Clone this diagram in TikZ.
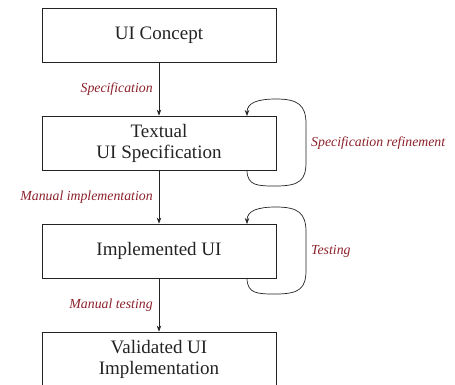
\documentclass[tikz,border=0pt]{standalone}
\usepackage{fontspec}
\setmainfont{Liberation Serif}
\usetikzlibrary{arrows.meta}
\definecolor{lbl}{RGB}{140,32,42}
\definecolor{ink}{RGB}{35,35,35}
\begin{document}
\begin{tikzpicture}[x=1pt,y=-1pt,
  stage/.style={draw=ink,line width=0.8pt,minimum width=234pt,minimum height=54pt,
    inner sep=0pt,align=center,text=ink,font=\fontsize{19}{21}\selectfont},
  flow/.style={draw=ink,line width=0.7pt,-{Stealth[length=6pt,width=4.5pt]}},
  lab/.style={text=lbl,font=\fontsize{13.8}{15}\itshape,inner sep=0pt}]
\useasboundingbox (0,0) rectangle (455,385);
\node[stage] (concept) at (159,35) {UI Concept};
\node[stage] (textual) at (159,143) {Textual\\UI Specification};
\node[stage] (impl) at (159,251) {Implemented UI};
\node[stage] (valid) at (159,359) {Validated UI\\Implementation};

\draw[flow] (concept) -- node[lab,anchor=east,xshift=-6pt] {Specification} (textual);
\draw[flow] (textual) -- node[lab,anchor=east,xshift=-6pt] {Manual implementation} (impl);
\draw[flow] (impl) -- node[lab,anchor=east,xshift=-6pt] {Manual testing} (valid);

% self loops on the right-hand side of a stage
\coordinate (tl1) at (247,170);
\coordinate (tl2) at (247,116);
\draw[flow] (tl1) .. controls (247,186) and (258,186) .. (276,186)
  .. controls (300,186) and (306,180) .. (306,162) -- (306,124)
  .. controls (306,105) and (298,99) .. (276,99)
  .. controls (257,99) and (247,103) .. (tl2);
\node[lab,anchor=west] (reflab) at (311,143) {Specification refinement};

\coordinate (il1) at (247,278);
\coordinate (il2) at (247,224);
\draw[flow] (il1) .. controls (247,294) and (258,294) .. (276,294)
  .. controls (300,294) and (306,288) .. (306,270) -- (306,232)
  .. controls (306,213) and (298,207) .. (276,207)
  .. controls (257,207) and (247,211) .. (il2);
\node[lab,anchor=west] (testlab) at (311,251) {Testing};
\end{tikzpicture}
\end{document}
